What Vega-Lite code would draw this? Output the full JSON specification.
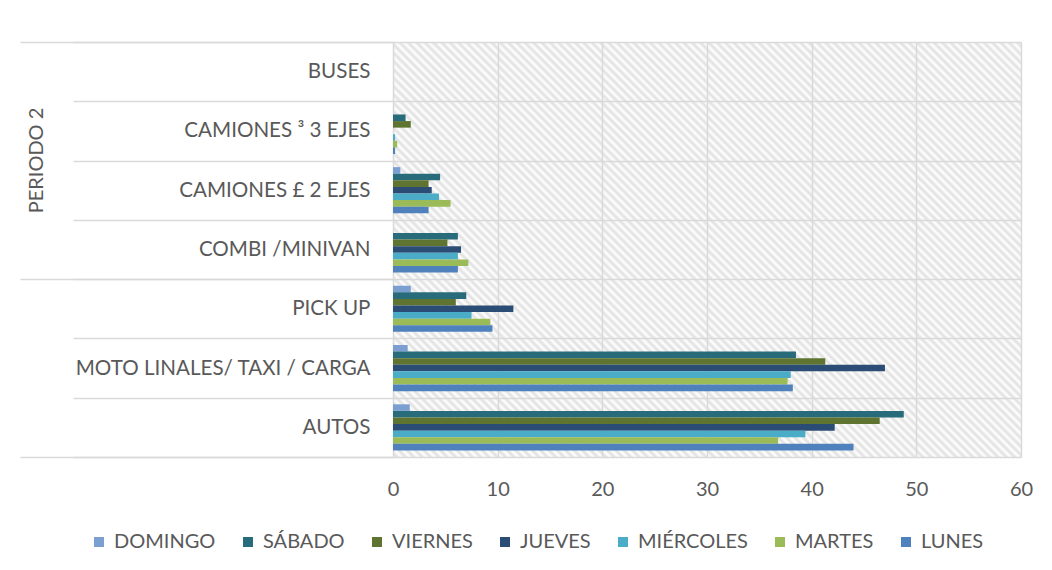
{
  "$schema": "https://vega.github.io/schema/vega-lite/v6.json",
  "width": 628,
  "height": 415,
  "autosize": {"type": "none"},
  "padding": {"left": 393, "top": 42, "right": 31, "bottom": 113},
  "background": "white",
  "config": {
    "font": "Lato",
    "view": {"stroke": null, "fill": {"gradient": "linear", "x1": 0, "y1": 1, "x2": 1.156, "y2": 0.236, "stops": [
      {"offset": 0, "color": "#fff"}, {"offset": 0.004, "color": "#e0e0e0"}, {"offset": 0.008, "color": "#fff"}, {"offset": 0.012, "color": "#e0e0e0"}, {"offset": 0.016, "color": "#fff"}, {"offset": 0.02, "color": "#e0e0e0"}, {"offset": 0.024, "color": "#fff"}, {"offset": 0.028, "color": "#e0e0e0"}, {"offset": 0.032, "color": "#fff"}, {"offset": 0.036, "color": "#e0e0e0"},
      {"offset": 0.04, "color": "#fff"}, {"offset": 0.044, "color": "#e0e0e0"}, {"offset": 0.048, "color": "#fff"}, {"offset": 0.052, "color": "#e0e0e0"}, {"offset": 0.056, "color": "#fff"}, {"offset": 0.06, "color": "#e0e0e0"}, {"offset": 0.064, "color": "#fff"}, {"offset": 0.068, "color": "#e0e0e0"}, {"offset": 0.072, "color": "#fff"}, {"offset": 0.076, "color": "#e0e0e0"},
      {"offset": 0.08, "color": "#fff"}, {"offset": 0.084, "color": "#e0e0e0"}, {"offset": 0.088, "color": "#fff"}, {"offset": 0.092, "color": "#e0e0e0"}, {"offset": 0.096, "color": "#fff"}, {"offset": 0.1, "color": "#e0e0e0"}, {"offset": 0.104, "color": "#fff"}, {"offset": 0.108, "color": "#e0e0e0"}, {"offset": 0.112, "color": "#fff"}, {"offset": 0.116, "color": "#e0e0e0"},
      {"offset": 0.12, "color": "#fff"}, {"offset": 0.124, "color": "#e0e0e0"}, {"offset": 0.128, "color": "#fff"}, {"offset": 0.132, "color": "#e0e0e0"}, {"offset": 0.136, "color": "#fff"}, {"offset": 0.14, "color": "#e0e0e0"}, {"offset": 0.144, "color": "#fff"}, {"offset": 0.148, "color": "#e0e0e0"}, {"offset": 0.152, "color": "#fff"}, {"offset": 0.156, "color": "#e0e0e0"},
      {"offset": 0.16, "color": "#fff"}, {"offset": 0.164, "color": "#e0e0e0"}, {"offset": 0.168, "color": "#fff"}, {"offset": 0.172, "color": "#e0e0e0"}, {"offset": 0.176, "color": "#fff"}, {"offset": 0.18, "color": "#e0e0e0"}, {"offset": 0.184, "color": "#fff"}, {"offset": 0.188, "color": "#e0e0e0"}, {"offset": 0.192, "color": "#fff"}, {"offset": 0.196, "color": "#e0e0e0"},
      {"offset": 0.2, "color": "#fff"}, {"offset": 0.204, "color": "#e0e0e0"}, {"offset": 0.208, "color": "#fff"}, {"offset": 0.212, "color": "#e0e0e0"}, {"offset": 0.216, "color": "#fff"}, {"offset": 0.22, "color": "#e0e0e0"}, {"offset": 0.224, "color": "#fff"}, {"offset": 0.228, "color": "#e0e0e0"}, {"offset": 0.232, "color": "#fff"}, {"offset": 0.236, "color": "#e0e0e0"},
      {"offset": 0.24, "color": "#fff"}, {"offset": 0.244, "color": "#e0e0e0"}, {"offset": 0.248, "color": "#fff"}, {"offset": 0.252, "color": "#e0e0e0"}, {"offset": 0.256, "color": "#fff"}, {"offset": 0.26, "color": "#e0e0e0"}, {"offset": 0.264, "color": "#fff"}, {"offset": 0.268, "color": "#e0e0e0"}, {"offset": 0.272, "color": "#fff"}, {"offset": 0.276, "color": "#e0e0e0"},
      {"offset": 0.28, "color": "#fff"}, {"offset": 0.284, "color": "#e0e0e0"}, {"offset": 0.288, "color": "#fff"}, {"offset": 0.292, "color": "#e0e0e0"}, {"offset": 0.296, "color": "#fff"}, {"offset": 0.3, "color": "#e0e0e0"}, {"offset": 0.304, "color": "#fff"}, {"offset": 0.308, "color": "#e0e0e0"}, {"offset": 0.312, "color": "#fff"}, {"offset": 0.316, "color": "#e0e0e0"},
      {"offset": 0.32, "color": "#fff"}, {"offset": 0.324, "color": "#e0e0e0"}, {"offset": 0.328, "color": "#fff"}, {"offset": 0.332, "color": "#e0e0e0"}, {"offset": 0.336, "color": "#fff"}, {"offset": 0.34, "color": "#e0e0e0"}, {"offset": 0.344, "color": "#fff"}, {"offset": 0.348, "color": "#e0e0e0"}, {"offset": 0.352, "color": "#fff"}, {"offset": 0.356, "color": "#e0e0e0"},
      {"offset": 0.36, "color": "#fff"}, {"offset": 0.364, "color": "#e0e0e0"}, {"offset": 0.368, "color": "#fff"}, {"offset": 0.372, "color": "#e0e0e0"}, {"offset": 0.376, "color": "#fff"}, {"offset": 0.38, "color": "#e0e0e0"}, {"offset": 0.384, "color": "#fff"}, {"offset": 0.388, "color": "#e0e0e0"}, {"offset": 0.392, "color": "#fff"}, {"offset": 0.396, "color": "#e0e0e0"},
      {"offset": 0.4, "color": "#fff"}, {"offset": 0.404, "color": "#e0e0e0"}, {"offset": 0.408, "color": "#fff"}, {"offset": 0.412, "color": "#e0e0e0"}, {"offset": 0.416, "color": "#fff"}, {"offset": 0.42, "color": "#e0e0e0"}, {"offset": 0.424, "color": "#fff"}, {"offset": 0.428, "color": "#e0e0e0"}, {"offset": 0.432, "color": "#fff"}, {"offset": 0.436, "color": "#e0e0e0"},
      {"offset": 0.44, "color": "#fff"}, {"offset": 0.444, "color": "#e0e0e0"}, {"offset": 0.448, "color": "#fff"}, {"offset": 0.452, "color": "#e0e0e0"}, {"offset": 0.456, "color": "#fff"}, {"offset": 0.46, "color": "#e0e0e0"}, {"offset": 0.464, "color": "#fff"}, {"offset": 0.468, "color": "#e0e0e0"}, {"offset": 0.472, "color": "#fff"}, {"offset": 0.476, "color": "#e0e0e0"},
      {"offset": 0.48, "color": "#fff"}, {"offset": 0.484, "color": "#e0e0e0"}, {"offset": 0.488, "color": "#fff"}, {"offset": 0.492, "color": "#e0e0e0"}, {"offset": 0.496, "color": "#fff"}, {"offset": 0.5, "color": "#e0e0e0"}, {"offset": 0.504, "color": "#fff"}, {"offset": 0.508, "color": "#e0e0e0"}, {"offset": 0.512, "color": "#fff"}, {"offset": 0.516, "color": "#e0e0e0"},
      {"offset": 0.52, "color": "#fff"}, {"offset": 0.524, "color": "#e0e0e0"}, {"offset": 0.528, "color": "#fff"}, {"offset": 0.532, "color": "#e0e0e0"}, {"offset": 0.536, "color": "#fff"}, {"offset": 0.54, "color": "#e0e0e0"}, {"offset": 0.544, "color": "#fff"}, {"offset": 0.548, "color": "#e0e0e0"}, {"offset": 0.552, "color": "#fff"}, {"offset": 0.556, "color": "#e0e0e0"},
      {"offset": 0.56, "color": "#fff"}, {"offset": 0.564, "color": "#e0e0e0"}, {"offset": 0.568, "color": "#fff"}, {"offset": 0.572, "color": "#e0e0e0"}, {"offset": 0.576, "color": "#fff"}, {"offset": 0.58, "color": "#e0e0e0"}, {"offset": 0.584, "color": "#fff"}, {"offset": 0.588, "color": "#e0e0e0"}, {"offset": 0.592, "color": "#fff"}, {"offset": 0.596, "color": "#e0e0e0"},
      {"offset": 0.6, "color": "#fff"}, {"offset": 0.604, "color": "#e0e0e0"}, {"offset": 0.608, "color": "#fff"}, {"offset": 0.612, "color": "#e0e0e0"}, {"offset": 0.616, "color": "#fff"}, {"offset": 0.62, "color": "#e0e0e0"}, {"offset": 0.624, "color": "#fff"}, {"offset": 0.628, "color": "#e0e0e0"}, {"offset": 0.632, "color": "#fff"}, {"offset": 0.636, "color": "#e0e0e0"},
      {"offset": 0.64, "color": "#fff"}, {"offset": 0.644, "color": "#e0e0e0"}, {"offset": 0.648, "color": "#fff"}, {"offset": 0.652, "color": "#e0e0e0"}, {"offset": 0.656, "color": "#fff"}, {"offset": 0.66, "color": "#e0e0e0"}, {"offset": 0.664, "color": "#fff"}, {"offset": 0.668, "color": "#e0e0e0"}, {"offset": 0.672, "color": "#fff"}, {"offset": 0.676, "color": "#e0e0e0"},
      {"offset": 0.68, "color": "#fff"}, {"offset": 0.684, "color": "#e0e0e0"}, {"offset": 0.688, "color": "#fff"}, {"offset": 0.692, "color": "#e0e0e0"}, {"offset": 0.696, "color": "#fff"}, {"offset": 0.7, "color": "#e0e0e0"}, {"offset": 0.704, "color": "#fff"}, {"offset": 0.708, "color": "#e0e0e0"}, {"offset": 0.712, "color": "#fff"}, {"offset": 0.716, "color": "#e0e0e0"},
      {"offset": 0.72, "color": "#fff"}, {"offset": 0.724, "color": "#e0e0e0"}, {"offset": 0.728, "color": "#fff"}, {"offset": 0.732, "color": "#e0e0e0"}, {"offset": 0.736, "color": "#fff"}, {"offset": 0.74, "color": "#e0e0e0"}, {"offset": 0.744, "color": "#fff"}, {"offset": 0.748, "color": "#e0e0e0"}, {"offset": 0.752, "color": "#fff"}, {"offset": 0.756, "color": "#e0e0e0"},
      {"offset": 0.76, "color": "#fff"}, {"offset": 0.764, "color": "#e0e0e0"}, {"offset": 0.768, "color": "#fff"}, {"offset": 0.772, "color": "#e0e0e0"}, {"offset": 0.776, "color": "#fff"}, {"offset": 0.78, "color": "#e0e0e0"}, {"offset": 0.784, "color": "#fff"}, {"offset": 0.788, "color": "#e0e0e0"}, {"offset": 0.792, "color": "#fff"}, {"offset": 0.796, "color": "#e0e0e0"},
      {"offset": 0.8, "color": "#fff"}, {"offset": 0.804, "color": "#e0e0e0"}, {"offset": 0.808, "color": "#fff"}, {"offset": 0.812, "color": "#e0e0e0"}, {"offset": 0.816, "color": "#fff"}, {"offset": 0.82, "color": "#e0e0e0"}, {"offset": 0.824, "color": "#fff"}, {"offset": 0.828, "color": "#e0e0e0"}, {"offset": 0.832, "color": "#fff"}, {"offset": 0.836, "color": "#e0e0e0"},
      {"offset": 0.84, "color": "#fff"}, {"offset": 0.844, "color": "#e0e0e0"}, {"offset": 0.848, "color": "#fff"}, {"offset": 0.852, "color": "#e0e0e0"}, {"offset": 0.856, "color": "#fff"}, {"offset": 0.86, "color": "#e0e0e0"}, {"offset": 0.864, "color": "#fff"}, {"offset": 0.868, "color": "#e0e0e0"}, {"offset": 0.872, "color": "#fff"}, {"offset": 0.876, "color": "#e0e0e0"},
      {"offset": 0.88, "color": "#fff"}, {"offset": 0.884, "color": "#e0e0e0"}, {"offset": 0.888, "color": "#fff"}, {"offset": 0.892, "color": "#e0e0e0"}, {"offset": 0.896, "color": "#fff"}, {"offset": 0.9, "color": "#e0e0e0"}, {"offset": 0.904, "color": "#fff"}, {"offset": 0.908, "color": "#e0e0e0"}, {"offset": 0.912, "color": "#fff"}, {"offset": 0.916, "color": "#e0e0e0"},
      {"offset": 0.92, "color": "#fff"}, {"offset": 0.924, "color": "#e0e0e0"}, {"offset": 0.928, "color": "#fff"}, {"offset": 0.932, "color": "#e0e0e0"}, {"offset": 0.936, "color": "#fff"}, {"offset": 0.94, "color": "#e0e0e0"}, {"offset": 0.944, "color": "#fff"}, {"offset": 0.948, "color": "#e0e0e0"}, {"offset": 0.952, "color": "#fff"}, {"offset": 0.956, "color": "#e0e0e0"},
      {"offset": 0.96, "color": "#fff"}, {"offset": 0.964, "color": "#e0e0e0"}, {"offset": 0.968, "color": "#fff"}, {"offset": 0.972, "color": "#e0e0e0"}, {"offset": 0.976, "color": "#fff"}, {"offset": 0.98, "color": "#e0e0e0"}, {"offset": 0.984, "color": "#fff"}, {"offset": 0.988, "color": "#e0e0e0"}, {"offset": 0.992, "color": "#fff"}, {"offset": 0.996, "color": "#e0e0e0"},
      {"offset": 1, "color": "#fff"}
    ]}},
    "axis": {"labelFont": "Lato", "labelColor": "#595959", "labelFontSize": 20, "titleFont": "Lato", "titleColor": "#595959", "titleFontSize": 20, "titleFontWeight": "normal"},
    "legend": {"labelFont": "Lato", "labelFontSize": 20, "labelColor": "#595959"}
  },
  "data": {
    "values": [
      {"categoria": "BUSES", "dia": "DOMINGO", "valor": 0},
      {"categoria": "BUSES", "dia": "SÁBADO", "valor": 0},
      {"categoria": "BUSES", "dia": "VIERNES", "valor": 0},
      {"categoria": "BUSES", "dia": "JUEVES", "valor": 0},
      {"categoria": "BUSES", "dia": "MIÉRCOLES", "valor": 0},
      {"categoria": "BUSES", "dia": "MARTES", "valor": 0},
      {"categoria": "BUSES", "dia": "LUNES", "valor": 0},
      {"categoria": "CAMIONES ³ 3 EJES", "dia": "DOMINGO", "valor": 0},
      {"categoria": "CAMIONES ³ 3 EJES", "dia": "SÁBADO", "valor": 1.2},
      {"categoria": "CAMIONES ³ 3 EJES", "dia": "VIERNES", "valor": 1.7},
      {"categoria": "CAMIONES ³ 3 EJES", "dia": "JUEVES", "valor": 0},
      {"categoria": "CAMIONES ³ 3 EJES", "dia": "MIÉRCOLES", "valor": 0.2},
      {"categoria": "CAMIONES ³ 3 EJES", "dia": "MARTES", "valor": 0.4},
      {"categoria": "CAMIONES ³ 3 EJES", "dia": "LUNES", "valor": 0.2},
      {"categoria": "CAMIONES £ 2 EJES", "dia": "DOMINGO", "valor": 0.7},
      {"categoria": "CAMIONES £ 2 EJES", "dia": "SÁBADO", "valor": 4.5},
      {"categoria": "CAMIONES £ 2 EJES", "dia": "VIERNES", "valor": 3.4},
      {"categoria": "CAMIONES £ 2 EJES", "dia": "JUEVES", "valor": 3.7},
      {"categoria": "CAMIONES £ 2 EJES", "dia": "MIÉRCOLES", "valor": 4.4},
      {"categoria": "CAMIONES £ 2 EJES", "dia": "MARTES", "valor": 5.5},
      {"categoria": "CAMIONES £ 2 EJES", "dia": "LUNES", "valor": 3.4},
      {"categoria": "COMBI /MINIVAN", "dia": "DOMINGO", "valor": 0},
      {"categoria": "COMBI /MINIVAN", "dia": "SÁBADO", "valor": 6.2},
      {"categoria": "COMBI /MINIVAN", "dia": "VIERNES", "valor": 5.2},
      {"categoria": "COMBI /MINIVAN", "dia": "JUEVES", "valor": 6.5},
      {"categoria": "COMBI /MINIVAN", "dia": "MIÉRCOLES", "valor": 6.2},
      {"categoria": "COMBI /MINIVAN", "dia": "MARTES", "valor": 7.2},
      {"categoria": "COMBI /MINIVAN", "dia": "LUNES", "valor": 6.2},
      {"categoria": "PICK UP", "dia": "DOMINGO", "valor": 1.7},
      {"categoria": "PICK UP", "dia": "SÁBADO", "valor": 7.0},
      {"categoria": "PICK UP", "dia": "VIERNES", "valor": 6.0},
      {"categoria": "PICK UP", "dia": "JUEVES", "valor": 11.5},
      {"categoria": "PICK UP", "dia": "MIÉRCOLES", "valor": 7.5},
      {"categoria": "PICK UP", "dia": "MARTES", "valor": 9.3},
      {"categoria": "PICK UP", "dia": "LUNES", "valor": 9.5},
      {"categoria": "MOTO LINALES/ TAXI / CARGA", "dia": "DOMINGO", "valor": 1.4},
      {"categoria": "MOTO LINALES/ TAXI / CARGA", "dia": "SÁBADO", "valor": 38.5},
      {"categoria": "MOTO LINALES/ TAXI / CARGA", "dia": "VIERNES", "valor": 41.3},
      {"categoria": "MOTO LINALES/ TAXI / CARGA", "dia": "JUEVES", "valor": 47.0},
      {"categoria": "MOTO LINALES/ TAXI / CARGA", "dia": "MIÉRCOLES", "valor": 38.0},
      {"categoria": "MOTO LINALES/ TAXI / CARGA", "dia": "MARTES", "valor": 37.7},
      {"categoria": "MOTO LINALES/ TAXI / CARGA", "dia": "LUNES", "valor": 38.2},
      {"categoria": "AUTOS", "dia": "DOMINGO", "valor": 1.6},
      {"categoria": "AUTOS", "dia": "SÁBADO", "valor": 48.8},
      {"categoria": "AUTOS", "dia": "VIERNES", "valor": 46.5},
      {"categoria": "AUTOS", "dia": "JUEVES", "valor": 42.2},
      {"categoria": "AUTOS", "dia": "MIÉRCOLES", "valor": 39.4},
      {"categoria": "AUTOS", "dia": "MARTES", "valor": 36.8},
      {"categoria": "AUTOS", "dia": "LUNES", "valor": 44.0}
    ]
  },
  "layer": [
    {
      "mark": {"type": "bar"},
      "encoding": {
        "y": {
          "field": "categoria", "type": "nominal",
          "sort": ["BUSES", "CAMIONES ³ 3 EJES", "CAMIONES £ 2 EJES", "COMBI /MINIVAN", "PICK UP", "MOTO LINALES/ TAXI / CARGA", "AUTOS"],
          "scale": {"paddingInner": 0, "paddingOuter": 0},
          "axis": {
            "title": "PERIODO 2", "titleAngle": -90, "titleX": -357, "titleY": 118, "titleAlign": "center", "titleBaseline": "middle",
            "tickBand": "extent", "tickSize": 320, "tickColor": "#d9d9d9", "tickWidth": 1.5,
            "labelPadding": -297, "labelLimit": 400, "labelFontSize": 20.6, "domain": false,
            "grid": true, "gridColor": "#d9d9d9", "gridWidth": 1.5,
            "labelExpr": "(datum.value == 'AUTOS' || datum.value == 'CAMIONES ³ 3 EJES') ? datum.value + '\u00a0' : datum.value"
          }
        },
        "yOffset": {
          "field": "dia", "type": "nominal",
          "sort": ["DOMINGO", "SÁBADO", "VIERNES", "JUEVES", "MIÉRCOLES", "MARTES", "LUNES"],
          "scale": {"paddingInner": 0, "paddingOuter": 1.36}
        },
        "x": {
          "field": "valor", "type": "quantitative",
          "scale": {"domain": [0, 60], "nice": false},
          "axis": {"title": null, "values": [0, 10, 20, 30, 40, 50, 60], "grid": true, "gridColor": "#d9d9d9", "gridWidth": 1.5, "ticks": false, "domain": false, "labelPadding": 22, "labelFlush": false}
        },
        "color": {
          "field": "dia", "type": "nominal",
          "sort": ["DOMINGO", "SÁBADO", "VIERNES", "JUEVES", "MIÉRCOLES", "MARTES", "LUNES"],
          "scale": {
            "domain": ["DOMINGO", "SÁBADO", "VIERNES", "JUEVES", "MIÉRCOLES", "MARTES", "LUNES"],
            "range": ["#7a9fd0", "#286b7b", "#5f7431", "#2b4c74", "#4aacc6", "#9bbb59", "#4f81bd"]
          },
          "legend": {
            "title": null, "orient": "none", "legendX": -304, "legendY": 490, "direction": "horizontal",
            "symbolType": "square", "symbolSize": 100, "symbolStrokeWidth": 0, "symbolOpacity": 1,
            "columnPadding": 22, "labelOffset": 5
          }
        }
      }
    },
    {
      "mark": {"type": "rule", "opacity": 0},
      "encoding": {
        "y": {
          "field": "categoria", "type": "nominal",
          "sort": ["BUSES", "CAMIONES ³ 3 EJES", "CAMIONES £ 2 EJES", "COMBI /MINIVAN", "PICK UP", "MOTO LINALES/ TAXI / CARGA", "AUTOS"],
          "axis": {"orient": "left", "title": null, "values": ["BUSES", "PICK UP"], "bandPosition": 0, "tickSize": 373, "tickColor": "#d9d9d9", "tickWidth": 1.5, "labels": false, "domain": false, "grid": false}
        }
      }
    },
    {
      "mark": {"type": "rule", "opacity": 0},
      "encoding": {
        "y": {
          "field": "categoria", "type": "nominal",
          "sort": ["BUSES", "CAMIONES ³ 3 EJES", "CAMIONES £ 2 EJES", "COMBI /MINIVAN", "PICK UP", "MOTO LINALES/ TAXI / CARGA", "AUTOS"],
          "axis": {"orient": "left", "title": null, "values": ["AUTOS"], "bandPosition": 1, "tickSize": 373, "tickColor": "#d9d9d9", "tickWidth": 1.5, "labels": false, "domain": false, "grid": false}
        }
      }
    }
  ],
  "resolve": {"axis": {"y": "independent"}}
}
